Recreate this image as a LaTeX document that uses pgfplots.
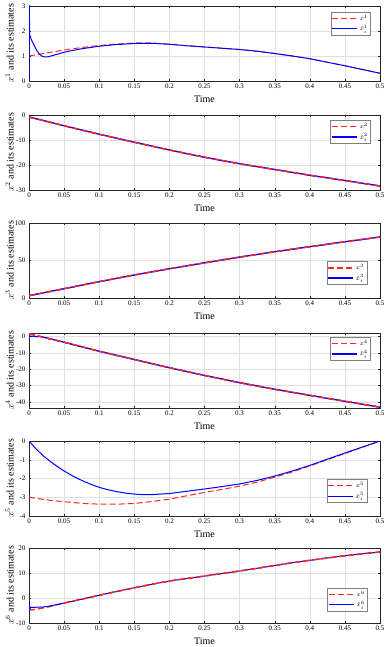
\documentclass[border=0pt]{standalone}
\usepackage{fontspec}
\setmainfont{Liberation Serif}
\usepackage{pgfplots}
\pgfplotsset{compat=1.18}
\definecolor{axgray}{gray}{0.15}
\definecolor{gridgray}{gray}{0.88}
\pgfplotsset{
 legend image code/.code={\draw[#1] (0pt,0pt) -- (25pt,0pt);},
}
\pgfplotsset{
 panel/.style={
  scale only axis, width=351pt, height=75pt,
  xmin=0, xmax=0.5,
  xtick={0,0.05,0.1,0.15,0.2,0.25,0.3,0.35,0.4,0.45,0.5},
  xticklabels={0,0.05,0.1,0.15,0.2,0.25,0.3,0.35,0.4,0.45,0.5},
  /pgf/number format/assume math mode=true,
  tick label style={font=\fontsize{7}{8}\selectfont, text=black},
  label style={font=\fontsize{8}{9}\selectfont},
  axis line style={axgray, line width=0.5pt},
  tick style={axgray, line width=0.4pt},
  tick align=inside, major tick length=2.2pt,
  xmajorgrids, ymajorgrids,
  grid style={gridgray, line width=0.4pt},
  xlabel={Time},
  every axis x label/.style={at={(axis description cs:0.5,0)}, anchor=center, yshift=-18pt},
  every axis y label/.style={at={(axis description cs:-0.055,0.5)}, anchor=center, rotate=90},
  xticklabel style={yshift=0.5pt},
  legend style={font=\fontsize{6}{6.5}\selectfont, draw=gray, fill=white, inner sep=0.8pt, row sep=-1pt, cells={anchor=west}},
  legend cell align=left,
 },
 truth/.style={red!85!white, line width=1pt, dash pattern=on 6pt off 3pt},
 est/.style={blue, line width=1pt},
 thick2/.style={line width=1.35pt},
}
\begin{document}
\begin{tikzpicture}
\useasboundingbox (-29pt,6pt) rectangle (361pt,-641pt);
% ---------- panel 1
\begin{axis}[panel, at={(0pt,0pt)}, anchor=north west,
  ymin=0, ymax=3, ytick={0,1,2,3},
  ylabel={$x^1$ and its estimates},
  legend style={at={(axis description cs:0.974,0.92)}, anchor=north east}]
\addplot[truth] coordinates {(0,1.0)(0.025,1.12)(0.05,1.24)(0.075,1.34)(0.1,1.42)(0.125,1.48)(0.15,1.52)(0.175,1.52)(0.2,1.47)(0.225,1.41)(0.25,1.36)(0.275,1.31)(0.3,1.26)(0.325,1.19)(0.35,1.10)(0.375,1.00)(0.4,0.89)(0.425,0.75)(0.45,0.61)(0.475,0.46)(0.5,0.31)};
\addlegendentry{$x^1$}
\addplot[est] coordinates {(0,0)(0.0003,3.3)(0.001,1.85)(0.003,1.68)(0.006,1.5)(0.009,1.33)(0.012,1.18)(0.015,1.07)(0.018,1.0)(0.022,0.96)(0.026,0.96)(0.03,0.99)(0.04,1.07)(0.05,1.15)(0.06,1.21)(0.075,1.29)(0.1,1.39)(0.125,1.46)(0.15,1.50)(0.175,1.51)(0.2,1.47)(0.225,1.41)(0.25,1.36)(0.275,1.31)(0.3,1.26)(0.325,1.19)(0.35,1.10)(0.375,1.00)(0.4,0.89)(0.425,0.75)(0.45,0.61)(0.475,0.46)(0.5,0.31)};
\addlegendentry{$\hat{x}^1_i$}
\end{axis}
% ---------- panel 2
\begin{axis}[panel, at={(0pt,-109pt)}, anchor=north west,
  ymin=-30, ymax=0, ytick={-30,-20,-10,0},
  ylabel={$x^2$ and its estimates},
  legend style={at={(axis description cs:0.974,0.933)}, anchor=north east}]
\addplot[truth, thick2] coordinates {(0,-0.8)(0.05,-4.3)(0.1,-7.7)(0.15,-10.9)(0.2,-14.0)(0.25,-16.9)(0.3,-19.5)(0.35,-21.8)(0.4,-24.1)(0.45,-26.2)(0.5,-28.4)};
\addlegendentry{$x^2$}
\addplot[est, thick2] coordinates {(0,-0.8)(0.05,-4.3)(0.1,-7.7)(0.15,-10.9)(0.2,-14.0)(0.25,-16.9)(0.3,-19.5)(0.35,-21.8)(0.4,-24.1)(0.45,-26.2)(0.5,-28.4)};
\addlegendentry{$\hat{x}^2_i$}
\addplot[truth, thick2, forget plot] coordinates {(0,-0.8)(0.05,-4.3)(0.1,-7.7)(0.15,-10.9)(0.2,-14.0)(0.25,-16.9)(0.3,-19.5)(0.35,-21.8)(0.4,-24.1)(0.45,-26.2)(0.5,-28.4)};
\end{axis}
% ---------- panel 3
\begin{axis}[panel, at={(0pt,-217pt)}, anchor=north west,
  ymin=0, ymax=100, ytick={0,50,100},
  ylabel={$x^3$ and its estimates},
  legend style={at={(axis description cs:0.963,0.49)}, anchor=north east}]
\addplot[truth, thick2] coordinates {(0,3.1)(0.05,12.4)(0.1,21.8)(0.15,30.7)(0.2,39.0)(0.25,46.9)(0.3,54.5)(0.35,61.7)(0.4,68.4)(0.45,75.0)(0.5,81.3)};
\addlegendentry{$x^3$}
\addplot[est, thick2] coordinates {(0,3.1)(0.05,12.4)(0.1,21.8)(0.15,30.7)(0.2,39.0)(0.25,46.9)(0.3,54.5)(0.35,61.7)(0.4,68.4)(0.45,75.0)(0.5,81.3)};
\addlegendentry{$\hat{x}^3_i$}
\addplot[truth, thick2, forget plot] coordinates {(0,3.1)(0.05,12.4)(0.1,21.8)(0.15,30.7)(0.2,39.0)(0.25,46.9)(0.3,54.5)(0.35,61.7)(0.4,68.4)(0.45,75.0)(0.5,81.3)};
\end{axis}
% ---------- panel 4
\begin{axis}[panel, at={(0pt,-327pt)}, anchor=north west,
  ymin=-43.6, ymax=2, ytick={-40,-30,-20,-10,0},
  ylabel={$x^4$ and its estimates},
  legend style={at={(axis description cs:0.974,0.947)}, anchor=north east}]
\addplot[truth, thick2] coordinates {(0,1.6)(0.015,0.0)(0.05,-3.6)(0.1,-9.1)(0.15,-14.1)(0.2,-19.1)(0.25,-23.8)(0.3,-28.2)(0.35,-32.2)(0.4,-35.9)(0.45,-39.5)(0.5,-43.1)};
\addlegendentry{$x^4$}
\addplot[est, thick2] coordinates {(0,0)(0.006,0.05)(0.011,-0.2)(0.016,-0.1)(0.05,-3.6)(0.1,-9.1)(0.15,-14.1)(0.2,-19.1)(0.25,-23.8)(0.3,-28.2)(0.35,-32.2)(0.4,-35.9)(0.45,-39.5)(0.5,-43.1)};
\addlegendentry{$\hat{x}^4_i$}
\addplot[truth, thick2, forget plot] coordinates {(0,1.6)(0.015,0.0)(0.05,-3.6)(0.1,-9.1)(0.15,-14.1)(0.2,-19.1)(0.25,-23.8)(0.3,-28.2)(0.35,-32.2)(0.4,-35.9)(0.45,-39.5)(0.5,-43.1)};
\end{axis}
% ---------- panel 5
\begin{axis}[panel, at={(0pt,-435pt)}, anchor=north west,
  ymin=-4, ymax=0, ytick={-4,-3,-2,-1,0},
  ylabel={$x^5$ and its estimates},
  legend style={at={(axis description cs:0.963,0.49)}, anchor=north east}]
\addplot[truth] coordinates {(0,-3.0)(0.025,-3.14)(0.05,-3.24)(0.075,-3.32)(0.1,-3.37)(0.125,-3.37)(0.15,-3.33)(0.175,-3.23)(0.2,-3.1)(0.225,-2.92)(0.25,-2.74)(0.275,-2.58)(0.3,-2.41)(0.325,-2.19)(0.35,-1.93)(0.375,-1.65)(0.4,-1.33)(0.425,-1.0)(0.45,-0.67)(0.475,-0.34)(0.5,0.0)};
\addlegendentry{$x^5$}
\addplot[est] coordinates {(0,0)(0.01,-0.42)(0.02,-0.78)(0.03,-1.08)(0.04,-1.35)(0.05,-1.6)(0.0625,-1.87)(0.075,-2.1)(0.0875,-2.3)(0.1,-2.47)(0.1125,-2.6)(0.125,-2.7)(0.1375,-2.78)(0.15,-2.83)(0.1625,-2.86)(0.175,-2.86)(0.2,-2.8)(0.225,-2.68)(0.25,-2.56)(0.275,-2.43)(0.3,-2.29)(0.325,-2.1)(0.35,-1.87)(0.375,-1.6)(0.4,-1.3)(0.425,-0.97)(0.45,-0.64)(0.475,-0.32)(0.5,0.0)};
\addlegendentry{$\hat{x}^5_i$}
\end{axis}
% ---------- panel 6
\begin{axis}[panel, at={(0pt,-542pt)}, anchor=north west,
  ymin=-10, ymax=20, ytick={-10,0,10,20},
  ylabel={$x^6$ and its estimates},
  legend style={at={(axis description cs:0.965,0.467)}, anchor=north east}]
\addplot[truth, thick2] coordinates {(0,-4.9)(0.01,-4.5)(0.02,-4.0)(0.03,-3.4)(0.04,-2.7)(0.05,-2.0)(0.075,-0.5)(0.1,1.1)(0.125,2.6)(0.15,4.1)(0.175,5.5)(0.2,6.8)(0.225,7.8)(0.25,8.8)(0.275,9.8)(0.3,10.8)(0.325,11.9)(0.35,13.0)(0.375,14.1)(0.4,15.1)(0.425,16.0)(0.45,16.9)(0.475,17.7)(0.5,18.4)};
\addlegendentry{$x^6$}
\addplot[est] coordinates {(0,-1.8)(0.0004,-5.3)(0.0008,-3.2)(0.0015,-4.2)(0.003,-3.7)(0.01,-3.7)(0.02,-3.6)(0.03,-3.2)(0.04,-2.6)(0.05,-2.0)(0.075,-0.5)(0.1,1.1)(0.125,2.6)(0.15,4.1)(0.175,5.5)(0.2,6.8)(0.225,7.8)(0.25,8.8)(0.275,9.8)(0.3,10.8)(0.325,11.9)(0.35,13.0)(0.375,14.1)(0.4,15.1)(0.425,16.0)(0.45,16.9)(0.475,17.7)(0.5,18.4)};
\addlegendentry{$\hat{x}^6_i$}
\addplot[truth, thick2, forget plot] coordinates {(0.05,-2.0)(0.075,-0.5)(0.1,1.1)(0.125,2.6)(0.15,4.1)(0.175,5.5)(0.2,6.8)(0.225,7.8)(0.25,8.8)(0.275,9.8)(0.3,10.8)(0.325,11.9)(0.35,13.0)(0.375,14.1)(0.4,15.1)(0.425,16.0)(0.45,16.9)(0.475,17.7)(0.5,18.4)};
\end{axis}
\end{tikzpicture}
\end{document}
